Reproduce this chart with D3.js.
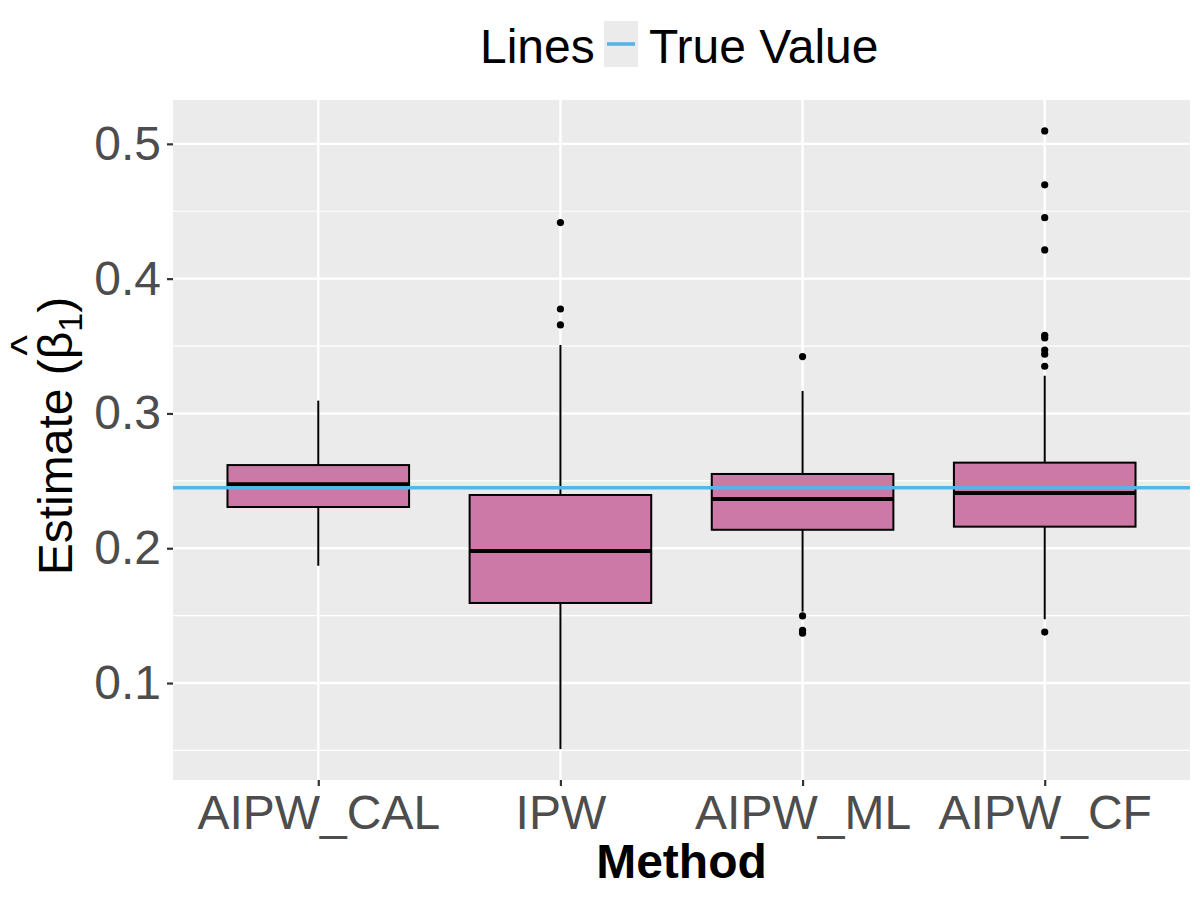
<!DOCTYPE html>
<html>
<head>
<meta charset="utf-8">
<script src="https://cdn.jsdelivr.net/npm/d3@7"></script>
<style>
  body { margin: 0; background: #fff; }
  text { font-family: "Liberation Sans", Arial, sans-serif; }
</style>
</head>
<body>
<script>
// data
var methods = ["AIPW_CAL", "IPW", "AIPW_ML", "AIPW_CF"];
var whiskerLow  = [0.187, 0.051, 0.153, 0.1473];
var q1          = [0.2306, 0.1594, 0.2137, 0.2160];
var medians     = [0.2475, 0.198, 0.2366, 0.2409];
var q3          = [0.2617, 0.2395, 0.2551, 0.2635];
var whiskerHigh = [0.3095, 0.3508, 0.3167, 0.328];
var outliers = [
  [],
  [0.3657, 0.3775, 0.4416],
  [0.3422, 0.1498, 0.139, 0.137],
  [0.5096, 0.4696, 0.4452, 0.4213, 0.358, 0.356, 0.347, 0.344, 0.335, 0.1378]
];
var trueValue = 0.2449;
var yTicks = [0.1, 0.2, 0.3, 0.4, 0.5];
var yMinor = [0.05, 0.15, 0.25, 0.35, 0.45];

var W = 1200, H = 900;
var panel = {left: 173, right: 1190, top: 100, bottom: 780};

var svg = d3.select("body").append("svg")
    .attr("width", W)
    .attr("height", H)
    .attr("viewBox", "0 0 " + W + " " + H);

// ggplot-like expansion: 5% on y, 0.6 units on discrete x
var allVals = whiskerLow.concat(whiskerHigh, d3.merge(outliers));
var lo = d3.min(allVals), hi = d3.max(allVals);
var pad = (hi - lo) * 0.05;

var y = d3.scaleLinear()
    .domain([lo - pad, hi + pad])
    .range([panel.bottom, panel.top]);

var x = d3.scalePoint()
    .domain(methods)
    .range([panel.left, panel.right])
    .padding(0.6);

var step = x.step();
var boxW = step * 0.75;

// panel background
svg.append("rect")
    .attr("x", panel.left).attr("y", panel.top)
    .attr("width", panel.right - panel.left)
    .attr("height", panel.bottom - panel.top)
    .attr("fill", "#EBEBEB");

// grid
svg.selectAll(".minor").data(yMinor).enter().append("line")
    .attr("x1", panel.left).attr("x2", panel.right)
    .attr("y1", function(d){ return y(d); })
    .attr("y2", function(d){ return y(d); })
    .attr("stroke", "#fff").attr("stroke-width", 1.2);

svg.selectAll(".major").data(yTicks).enter().append("line")
    .attr("x1", panel.left).attr("x2", panel.right)
    .attr("y1", function(d){ return y(d); })
    .attr("y2", function(d){ return y(d); })
    .attr("stroke", "#fff").attr("stroke-width", 2.4);

svg.selectAll(".vmajor").data(methods).enter().append("line")
    .attr("x1", function(d){ return x(d); })
    .attr("x2", function(d){ return x(d); })
    .attr("y1", panel.top).attr("y2", panel.bottom)
    .attr("stroke", "#fff").attr("stroke-width", 2.4);

// boxes
var boxes = svg.selectAll(".box").data(methods).enter().append("g");

boxes.append("line")
    .attr("x1", function(d){ return x(d); })
    .attr("x2", function(d){ return x(d); })
    .attr("y1", function(d, i){ return y(whiskerHigh[i]); })
    .attr("y2", function(d, i){ return y(q3[i]); })
    .attr("stroke", "#000").attr("stroke-width", 2);

boxes.append("line")
    .attr("x1", function(d){ return x(d); })
    .attr("x2", function(d){ return x(d); })
    .attr("y1", function(d, i){ return y(q1[i]); })
    .attr("y2", function(d, i){ return y(whiskerLow[i]); })
    .attr("stroke", "#000").attr("stroke-width", 2);

boxes.append("rect")
    .attr("x", function(d){ return x(d) - boxW / 2; })
    .attr("width", boxW)
    .attr("y", function(d, i){ return y(q3[i]); })
    .attr("height", function(d, i){ return y(q1[i]) - y(q3[i]); })
    .attr("fill", "#CC79A7")
    .attr("stroke", "#000").attr("stroke-width", 2);

boxes.append("line")
    .attr("x1", function(d){ return x(d) - boxW / 2; })
    .attr("x2", function(d){ return x(d) + boxW / 2; })
    .attr("y1", function(d, i){ return y(medians[i]); })
    .attr("y2", function(d, i){ return y(medians[i]); })
    .attr("stroke", "#000").attr("stroke-width", 4);

boxes.each(function(d, i) {
    d3.select(this).selectAll("circle").data(outliers[i]).enter().append("circle")
        .attr("cx", x(d))
        .attr("cy", function(v){ return y(v); })
        .attr("r", 3.6)
        .attr("fill", "#000");
});

// true value line
svg.append("line")
    .attr("x1", panel.left).attr("x2", panel.right)
    .attr("y1", y(trueValue)).attr("y2", y(trueValue))
    .attr("stroke", "#56B4E9").attr("stroke-width", 3.6);

// y axis
var yAxis = svg.append("g")
    .attr("transform", "translate(" + panel.left + ",0)")
    .call(d3.axisLeft(y).tickValues(yTicks).tickSize(6).tickPadding(6)
          .tickFormat(d3.format(".1f")));
yAxis.select(".domain").remove();
yAxis.selectAll(".tick line").attr("stroke", "#333").attr("stroke-width", 2.2);
yAxis.selectAll(".tick text")
    .attr("fill", "#4D4D4D")
    .style("font-size", "48px")
    .style("font-family", "'Liberation Sans', Arial, sans-serif");

// x axis
var xAxis = svg.append("g")
    .attr("transform", "translate(0," + panel.bottom + ")")
    .call(d3.axisBottom(x).tickSize(6).tickPadding(8));
xAxis.select(".domain").remove();
xAxis.selectAll(".tick line").attr("stroke", "#333").attr("stroke-width", 2.2);
xAxis.selectAll(".tick text")
    .attr("fill", "#4D4D4D")
    .attr("dy", "0.72em")
    .style("font-size", "48px")
    .style("font-family", "'Liberation Sans', Arial, sans-serif");

// x title
svg.append("text")
    .attr("x", (panel.left + panel.right) / 2)
    .attr("y", 878)
    .attr("text-anchor", "middle")
    .style("font-size", "48px")
    .style("font-weight", "bold")
    .text("Method");

// y title: Estimate (beta-hat_1)
var yTitle = svg.append("g")
    .attr("transform", "translate(72," + ((panel.top + panel.bottom) / 2 - 4) + ") rotate(-90)");
var yt = yTitle.append("text")
    .attr("text-anchor", "middle")
    .style("font-size", "48px")
    .attr("fill", "#000");
yt.append("tspan").text("Estimate (");
yt.append("tspan").text("\u03B2");
yt.append("tspan").attr("dy", 10).style("font-size", "34px").text("1");
yt.append("tspan").attr("dy", -10).text(")");
var betaIdx = "Estimate (".length;
var bStart = yt.node().getStartPositionOfChar(betaIdx);
var bEnd = yt.node().getEndPositionOfChar(betaIdx);
yTitle.append("text")
    .attr("x", (bStart.x + bEnd.x) / 2)
    .attr("y", -30)
    .attr("text-anchor", "middle")
    .style("font-size", "44px")
    .text("^");

// legend
var legend = svg.append("g");
legend.append("text")
    .attr("x", 480).attr("y", 63)
    .style("font-size", "48px")
    .text("Lines");
legend.append("rect")
    .attr("x", 604).attr("y", 21)
    .attr("width", 34).attr("height", 46)
    .attr("fill", "#EBEBEB");
legend.append("line")
    .attr("x1", 607).attr("x2", 635)
    .attr("y1", 44).attr("y2", 44)
    .attr("stroke", "#56B4E9").attr("stroke-width", 3.6);
legend.append("text")
    .attr("x", 649).attr("y", 63)
    .style("font-size", "48px")
    .text("True Value");
</script>
</body>
</html>
